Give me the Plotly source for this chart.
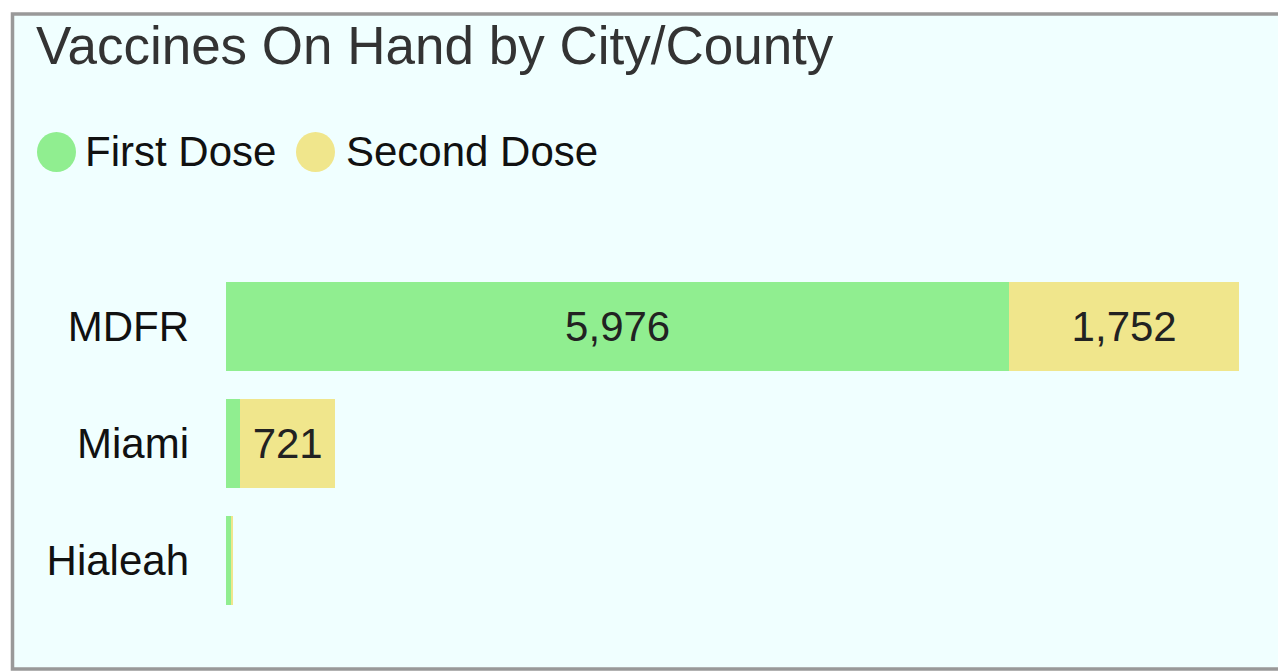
import plotly.graph_objects as go

categories = ["MDFR", "Miami", "Hialeah"]
first_dose = [5976, 110, 40]
second_dose = [1752, 721, 16]
series_names = ["First Dose", "Second Dose"]
colors = ["#90EE90", "#F0E68C"]
title_text = "Vaccines On Hand by City/County"

W, H = 1278, 671
PL, PR, PT, PB = 226, 1239, 268, 619

def xp(px):
    return (px - PL) / (PR - PL)

def yp(py):
    return (PB - py) / (PB - PT)

fig = go.Figure()
for name, vals, col in zip(series_names, [first_dose, second_dose], colors):
    fig.add_trace(go.Bar(
        y=categories, x=vals, orientation="h", name=name,
        marker=dict(color=col, line=dict(width=0)),
        texttemplate="%{x:,}", textposition="inside", insidetextanchor="middle",
        insidetextfont=dict(color="#222222", size=42),
        showlegend=False, hoverinfo="skip",
    ))

shapes = [dict(type="rect", xref="paper", yref="paper",
               x0=xp(12.5), x1=xp(1400), y0=yp(14), y1=yp(669),
               line=dict(color="#999999", width=3.5), fillcolor="#F0FFFF", layer="below")]
annotations = []
legend_pos = [(37, 83), (296, 344)]
for (cx, tx), name, col in zip(legend_pos, series_names, colors):
    shapes.append(dict(type="circle", xref="paper", yref="paper",
                       x0=xp(cx), x1=xp(cx + 39), y0=yp(172), y1=yp(132),
                       line=dict(width=0), fillcolor=col, layer="above"))
    annotations.append(dict(xref="paper", yref="paper", x=xp(tx), y=yp(152),
                            xanchor="left", yanchor="middle", showarrow=False,
                            text=name, font=dict(size=42, color="#111111")))

fig.update_layout(
    width=W, height=H,
    margin=dict(l=PL, r=W - PR, t=PT, b=H - PB, pad=0),
    barmode="stack", bargap=0.24,
    paper_bgcolor="white", plot_bgcolor="rgba(0,0,0,0)",
    font=dict(family="Arial, Liberation Sans, sans-serif", color="#111111"),
    title=dict(text=title_text, x=36 / W, xanchor="left", xref="container",
               y=1 - 27 / H, yanchor="top", yref="container",
               font=dict(size=53, color="#333333")),
    uniformtext=dict(minsize=42, mode="hide"),
    xaxis=dict(range=[0, sum([first_dose[0], second_dose[0]])], visible=False, fixedrange=True),
    yaxis=dict(autorange="reversed", showgrid=False, zeroline=False, showline=False,
               ticks="", tickfont=dict(size=42, color="#111111"), ticklabelstandoff=36,
               fixedrange=True),
    shapes=shapes, annotations=annotations,
)
fig.write_html("out.html", config={"displayModeBar": False},
               post_script="document.body.style.margin='0';document.body.style.overflow='hidden';")
